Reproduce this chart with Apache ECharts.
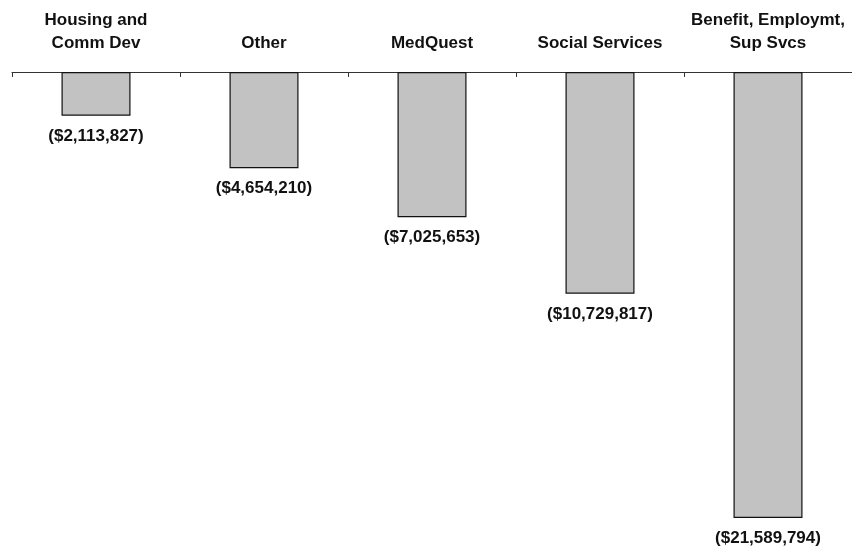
<!DOCTYPE html>
<html>
<head>
<meta charset="utf-8">
<script src="https://cdn.jsdelivr.net/npm/echarts@6/dist/echarts.min.js"></script>
<style>
  html, body { margin: 0; padding: 0; background: #fff; }
  #chart { width: 852px; height: 549px; }
</style>
</head>
<body>
<div id="chart"></div>
<script>
// categories along the top axis
var categories = ["Housing and\nComm Dev", "Other", "MedQuest", "Social Services", "Benefit, Employmt,\nSup Svcs"];
// budget reductions (negative dollars)
var values = [-2113827, -4654210, -7025653, -10729817, -21589794];

function money(v) {
  // (1234567) style with commas
  var s = Math.abs(v).toString().replace(/\B(?=(\d{3})+(?!\d))/g, ",");
  return v < 0 ? "($" + s + ")" : "$" + s;
}

var myChart = echarts.init(document.getElementById("chart"));
myChart.setOption({
  animation: false,
  grid: { left: 12, right: 0, top: 72, height: 446 },
  xAxis: {
    type: "category",
    position: "top",
    data: categories,
    axisLine: { lineStyle: { color: "#333", width: 1 } },
    axisTick: { show: true, inside: true, length: 5, lineStyle: { color: "#333" } },
    axisLabel: {
      margin: 17,
      fontFamily: "Liberation Sans, Arial, sans-serif",
      fontWeight: "bold",
      fontSize: 17,
      lineHeight: 23,
      color: "#111",
      interval: 0
    }
  },
  yAxis: {
    type: "value",
    min: -21589794,
    max: 0,
    show: false,
    splitLine: { show: false }
  },
  series: [
    {
      type: "bar",
      data: values,
      barWidth: 69,
      itemStyle: {
        color: "#c2c2c2",
        borderColor: "#111",
        borderWidth: 1.2
      },
      label: {
        show: true,
        position: "bottom",
        distance: 12,
        fontFamily: "Liberation Sans, Arial, sans-serif",
        fontWeight: "bold",
        fontSize: 17,
        color: "#111",
        formatter: function(p) { return money(p.value); }
      }
    }
  ]
});
</script>
</body>
</html>
